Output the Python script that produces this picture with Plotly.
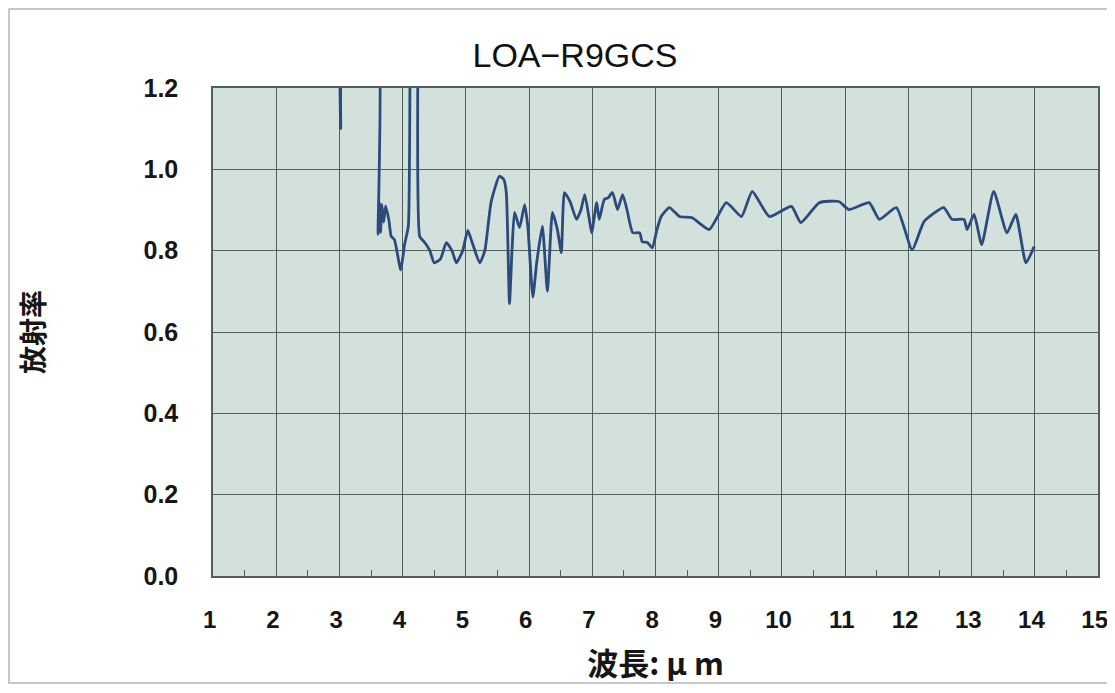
import plotly.graph_objects as go

# Data
wavelength = [3.00, 3.02, 3.04, 3.30, 3.58, 3.61, 3.63, 3.65, 3.67, 3.70, 3.73, 3.78, 3.82, 3.87,
              3.97, 4.03, 4.09, 4.13, 4.20, 4.24, 4.27, 4.35, 4.43, 4.50, 4.60, 4.69, 4.78, 4.85,
              4.95, 5.03, 5.10, 5.22, 5.30, 5.40, 5.53, 5.60, 5.64, 5.69, 5.73, 5.77, 5.85, 5.93,
              5.98, 6.06, 6.12, 6.21, 6.29, 6.37, 6.45, 6.51, 6.56, 6.65, 6.75, 6.82, 6.88, 6.95,
              6.99, 7.07, 7.11, 7.19, 7.25, 7.32, 7.40, 7.48, 7.55, 7.64, 7.75, 7.79, 7.87, 7.95,
              8.02, 8.09, 8.22, 8.38, 8.58, 8.85, 9.12, 9.36, 9.53, 9.80, 10.15, 10.30, 10.59,
              10.90, 11.06, 11.38, 11.54, 11.81, 12.06, 12.25, 12.56, 12.69, 12.88, 12.93, 13.04,
              13.16, 13.35, 13.56, 13.70, 13.86, 13.99]
emissivity = [1.30, 1.10, 1.30, 1.40, 1.40, 0.84, 0.92, 0.845, 0.914, 0.87, 0.91, 0.877, 0.835, 0.827,
              0.753, 0.815, 0.86, 1.40, 1.50, 1.40, 0.835, 0.82, 0.80, 0.77, 0.78, 0.82, 0.80, 0.77,
              0.80, 0.85, 0.82, 0.77, 0.80, 0.92, 0.983, 0.975, 0.943, 0.67, 0.80, 0.894, 0.857, 0.913,
              0.86, 0.686, 0.77, 0.86, 0.70, 0.894, 0.85, 0.795, 0.943, 0.92, 0.877, 0.90, 0.938, 0.88,
              0.844, 0.918, 0.877, 0.926, 0.93, 0.943, 0.901, 0.938, 0.90, 0.844, 0.844, 0.822, 0.82, 0.807,
              0.85, 0.884, 0.906, 0.884, 0.881, 0.852, 0.918, 0.884, 0.946, 0.884, 0.909, 0.869, 0.918,
              0.921, 0.901, 0.918, 0.877, 0.906, 0.802, 0.872, 0.906, 0.877, 0.877, 0.852, 0.889,
              0.815, 0.946, 0.844, 0.889, 0.77, 0.81]

x_ticks = list(range(1, 16))
x_tick_text = [str(t) for t in x_ticks]
y_ticks = [0.0, 0.2, 0.4, 0.6, 0.8, 1.0, 1.2]
y_tick_text = [f"{v:.1f}" for v in y_ticks]

title_text = "LOA−R9GCS"
x_title = "波長: μ m"
y_title = "放射率"

# page body has an 8px margin; lay out in reference pixel coordinates minus that offset
OFF = 8
W, H = 1115 - OFF, 693 - 2 * OFF - 1
L, R, T = 213 - OFF, 17, 88 - OFF
B = H - (576 - OFF)
pw, ph = W - L - R, H - T - B

def px_x(p):
    return (p - OFF - L) / pw

def px_y(p):
    return (H - B - (p - OFF)) / ph

grid_col = "#52605c"
tick_font = dict(family="Liberation Sans, Arial, sans-serif", size=24, color="#161616", weight="bold")
cjk_font = dict(family="Noto Sans CJK JP, sans-serif", size=31, color="#161616", weight="bold")

fig = go.Figure()
fig.add_trace(go.Scatter(
    x=wavelength, y=emissivity, mode="lines",
    line=dict(color="#2c4a7c", width=2.8, shape="spline", smoothing=0.5),
    showlegend=False, hoverinfo="x+y",
))

fig.update_layout(
    width=W, height=H,
    margin=dict(l=L, r=R, t=T, b=B, autoexpand=False),
    paper_bgcolor="white",
    plot_bgcolor="#d2e1db",
    title=dict(text=title_text, x=px_x(575), xref="paper", xanchor="center",
               y=1 - (55 - OFF) / H, yref="container", yanchor="middle",
               font=dict(family="Liberation Sans, Arial, sans-serif", size=34, color="#111111")),
    xaxis=dict(
        range=[1, 15], tickmode="array", tickvals=x_ticks,
        ticktext=[t + "\u00a0" for t in x_tick_text],
        showgrid=True, gridcolor=grid_col, gridwidth=1.2,
        showline=True, linecolor=grid_col, linewidth=1.5, mirror=True,
        ticks="", ticklabelstandoff=21, tickfont=tick_font, zeroline=False,
        minor=dict(tickvals=[x + 0.5 for x in x_ticks[:-1]], ticks="inside", ticklen=6,
                   tickcolor=grid_col, showgrid=False),
        title=dict(text=x_title, standoff=29, font=cjk_font),
        automargin=False,
    ),
    yaxis=dict(
        range=[0, 1.2], tickmode="array", tickvals=y_ticks, ticktext=y_tick_text,
        showgrid=True, gridcolor=grid_col, gridwidth=1.2,
        showline=True, linecolor=grid_col, linewidth=1.5, mirror=True,
        ticks="", ticklabelstandoff=28, tickfont=dict(tick_font, size=25), zeroline=False,
        title=dict(text=y_title, standoff=91, font=dict(cjk_font, size=28)),
        automargin=False,
    ),
    shapes=[dict(type="rect", xref="paper", yref="paper",
                 x0=px_x(9), x1=px_x(1111), y0=px_y(683), y1=px_y(9),
                 line=dict(color="#b5b5b5", width=1.5), fillcolor="rgba(0,0,0,0)", layer="below")],
)

fig.write_html("out.html")
